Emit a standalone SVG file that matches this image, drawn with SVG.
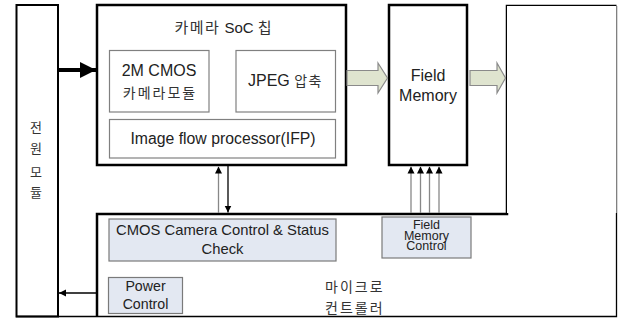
<svg xmlns="http://www.w3.org/2000/svg" width="621" height="320" viewBox="0 0 621 320">
  <defs>
    <marker id="ah" viewBox="0 0 10 10" refX="10" refY="5" markerWidth="7" markerHeight="9" markerUnits="userSpaceOnUse" orient="auto">
      <path d="M0,0 L10,5 L0,10 Z" fill="#000"/>
    </marker>
    <marker id="ahBig" viewBox="0 0 10 10" refX="10" refY="5" markerWidth="16" markerHeight="16" markerUnits="userSpaceOnUse" orient="auto">
      <path d="M0,0 L10,5 L0,10 Z" fill="#000"/>
    </marker>
  </defs>
  <style>
    .t { font-family: "Liberation Sans", "Noto Sans CJK KR", sans-serif; fill: #222; text-anchor: middle; }
    .ko { font-family: "Noto Sans CJK KR", "Liberation Sans", sans-serif; fill: #333; letter-spacing: 2px; }
    .thick { fill: #fff; stroke: #000; stroke-width: 2.5; }
    .inner { fill: #fff; stroke: #808080; stroke-width: 1.2; }
    .ctl { fill: #e3e8f2; stroke: #7a7a7a; stroke-width: 1.2; }
    .blk { fill: #dfe4cf; stroke: #8a8a8a; stroke-width: 1.2; }
    .wire { fill: none; stroke: #000; stroke-width: 1.3; }
    .gwire { fill: none; stroke: #888; stroke-width: 1.3; }
  </style>
  <rect width="621" height="320" fill="#fff"/>

  <!-- power module -->
  <g id="power-module">
    <rect x="16.5" y="5" width="41.5" height="311.5" fill="#fff" stroke="#000" stroke-width="2"/>
    <text class="t ko" x="36" y="132" font-size="13" style="letter-spacing:0">전</text>
    <text class="t ko" x="36" y="153" font-size="13" style="letter-spacing:0">원</text>
    <text class="t ko" x="36" y="177" font-size="13" style="letter-spacing:0">모</text>
    <text class="t ko" x="36" y="197" font-size="13" style="letter-spacing:0">듈</text>
  </g>

  <!-- microcontroller (L-shaped outline) -->
  <g id="microcontroller">
    <path d="M97,316.5 L97,214 L507,214 L507,6 L616.5,6 L616.5,316.5 Z" fill="#fff" stroke="none"/>
    <path d="M97,316.5 L97,214 L507,214 L507,6 L616.5,6" fill="none" stroke="#000" stroke-width="2.5"/>
    <path d="M616.5,6 L616.5,316.5 L16,316.5" fill="none" stroke="#000" stroke-width="1.3"/>
    <text class="ko" x="325" y="292" font-size="14">마이크로</text>
    <text class="ko" x="325" y="313" font-size="14">컨트롤러</text>
  </g>

  <g id="cmos-control">
    <rect class="ctl" x="109" y="219" width="227" height="42"/>
    <text class="t" x="222.5" y="235" font-size="14.8">CMOS Camera Control &amp; Status</text>
    <text class="t" x="222.5" y="254" font-size="14.8">Check</text>
  </g>

  <g id="field-memory-control">
    <rect class="ctl" x="382" y="217" width="89" height="41"/>
    <text class="t" x="426.5" y="229" font-size="12.5">Field</text>
    <text class="t" x="426.5" y="239.5" font-size="12.5">Memory</text>
    <text class="t" x="426.5" y="250" font-size="12.5">Control</text>
  </g>

  <g id="power-control">
    <rect class="ctl" x="108.5" y="277.5" width="74" height="36"/>
    <text class="t" x="145.5" y="290.5" font-size="14.2">Power</text>
    <text class="t" x="145.5" y="308.5" font-size="14.2">Control</text>
  </g>

  <!-- camera SoC chip -->
  <g id="camera-soc">
    <rect class="thick" x="97" y="5" width="249" height="160"/>
    <text class="t" x="224" y="33" font-size="15"><tspan class="ko" style="letter-spacing:1.5px">카메라</tspan> SoC <tspan class="ko">칩</tspan></text>
  </g>

  <g id="cmos-module">
    <rect class="inner" x="109.5" y="50.5" width="99.5" height="61.5"/>
    <text class="t" x="159" y="75.5" font-size="16">2M CMOS</text>
    <text class="t ko" x="160" y="97.5" font-size="14">카메라모듈</text>
  </g>

  <g id="jpeg">
    <rect class="inner" x="236" y="50.5" width="99.5" height="61.5"/>
    <text class="t" x="285.5" y="86" font-size="16">JPEG <tspan class="ko" font-size="14" style="letter-spacing:1.5px">압축</tspan></text>
  </g>

  <g id="ifp">
    <rect class="inner" x="109.5" y="119.5" width="226" height="38.5"/>
    <text class="t" x="223" y="144" font-size="15.8">Image flow processor(IFP)</text>
  </g>

  <g id="field-memory">
    <rect class="thick" x="389" y="5" width="78" height="160"/>
    <text class="t" x="428" y="80.5" font-size="16">Field</text>
    <text class="t" x="428" y="100.5" font-size="16">Memory</text>
  </g>

  <g id="output">
    <rect x="507" y="6" width="109.5" height="207" fill="#fff" stroke="none"/>
  </g>

  <!-- connectors -->
  <g id="connectors">
    <!-- data flow block arrows -->
    <path class="blk" d="M347,70.5 L378,70.5 L378,63 L387.5,78 L378,93 L378,85.5 L347,85.5 Z"/>
    <path class="blk" d="M470,70.5 L497,70.5 L497,63 L505.5,78 L497,93 L497,85.5 L470,85.5 Z"/>
    <!-- power supply to SoC -->
    <line x1="58" y1="70" x2="96" y2="70" stroke="#000" stroke-width="4" marker-end="url(#ahBig)"/>
    <!-- power control to power module -->
    <line class="wire" x1="96" y1="293" x2="59" y2="293" marker-end="url(#ah)"/>
    <!-- SoC <-> controller -->
    <line class="gwire" x1="218.5" y1="213" x2="218.5" y2="166.5" marker-end="url(#ah)"/>
    <line class="wire" x1="228" y1="166" x2="228" y2="212.5" marker-end="url(#ah)"/>
    <!-- field memory control lines -->
    <line class="gwire" x1="411" y1="213" x2="411" y2="166.5" marker-end="url(#ah)"/>
    <line class="gwire" x1="420.5" y1="213" x2="420.5" y2="166.5" marker-end="url(#ah)"/>
    <line class="gwire" x1="429.5" y1="213" x2="429.5" y2="166.5" marker-end="url(#ah)"/>
    <line class="gwire" x1="439" y1="213" x2="439" y2="166.5" marker-end="url(#ah)"/>
  </g>
</svg>
